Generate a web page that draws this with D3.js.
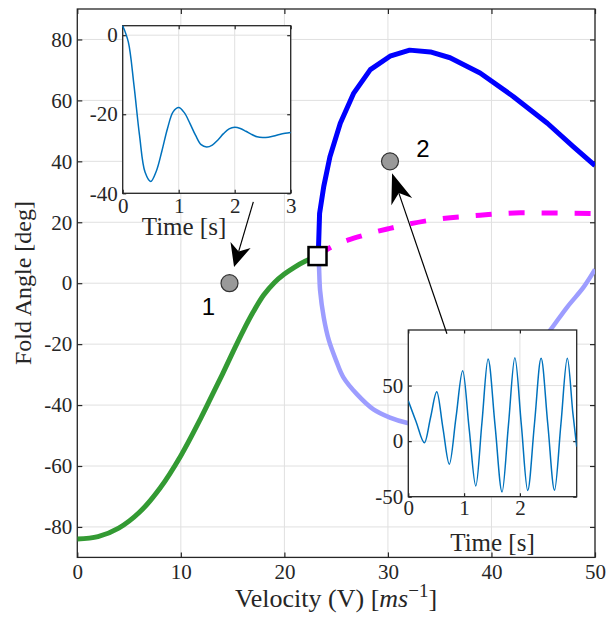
<!DOCTYPE html>
<meta charset="utf-8">
<style>
body { margin: 0; background: #fff; }
svg { display: block; }
</style>
<body>
<script src="https://cdn.jsdelivr.net/npm/d3@7"></script>
<script>

// ---- data ----
// stable branch before the flutter point (green)
var greenV = [0, 2, 4, 6, 8, 10, 12, 13, 14, 15, 16, 17, 18, 19, 20, 21, 22, 23.2];
var greenY = [-84, -83.2, -80.4, -75.2, -67.2, -56.6, -43.8, -36.9, -30, -22.8, -15.8, -9.4, -3.9, 0.1, 3, 5.3, 7.2, 8.9];
// LCO upper amplitude (blue)
var upperV = [23.2, 23.3, 23.4, 23.8, 24.4, 25.4, 26.7, 28.3, 30.2, 32.1, 34.1, 36, 38.9, 42.1, 45.4, 47.9, 50];
var upperY = [8.9, 11.9, 22.9, 31.7, 41.5, 52.5, 62.4, 70.1, 74.5, 76.5, 75.9, 74, 69, 61.3, 52.5, 44.8, 38.6];
// LCO lower amplitude (light blue)
var lowerV = [23.2, 23.3, 23.45, 23.8, 24.3, 25, 25.7, 27, 28.6, 30.2, 31.8, 33.5, 35, 37, 39, 41, 43, 45.7, 47.3, 48.9, 50];
var lowerY = [8.9, 7.5, -2.4, -11.2, -18.8, -25.4, -30.9, -36.4, -41.4, -44.1, -45.8, -46.8, -47, -45.5, -41.5, -35, -27, -15.3, -7.9, -1.3, 4.5];
// unstable equilibrium (magenta dashed)
var unstV = [23.2, 24.3, 27.6, 30.2, 34.1, 38.9, 42.8, 50];
var unstY = [8.9, 11.4, 15.7, 18, 20.7, 22.3, 23.1, 22.9];
// flutter point
var hopf = {v: 23.2, y: 8.9};
// sample points with their labels
var samples = [
  {v: 14.7, y: 0, label: "1", lv: 12.66, ly: -7.6},
  {v: 30.2, y: 40, label: "2", lv: 33.38, ly: 44.1}
];
// arrows from insets to sample points
var arrows = [
  {from: [17, 26.7], to: [15.14, 5.3], head: 23, width: 21},
  {from: [35.7, -16.6], to: [30.4, 36.1], head: 30, width: 22}
];

// inset 1: time history at point 1
var t1 = [0, 0.1, 0.2, 0.3, 0.4, 0.5, 0.6, 0.7, 0.8, 0.9, 1.0, 1.1, 1.2, 1.3, 1.4, 1.5,
          1.6, 1.7, 1.8, 1.9, 2.0, 2.1, 2.2, 2.3, 2.4, 2.5, 2.6, 2.7, 2.8, 2.9, 3.0];
var a1 = [2.4, -1.7, -12.5, -25.3, -34.7, -37.0, -34.4, -29.3, -23.6, -19.4, -18.3, -19.6, -22.3, -25.3, -27.7, -28.3,
          -27.8, -26.5, -24.9, -23.7, -23.3, -23.6, -24.3, -25.1, -25.7, -25.9, -25.8, -25.5, -25.1, -24.8, -24.6];
// inset 2: time history at point 2
var t2 = [0, 0.14, 0.29, 0.40, 0.51, 0.62, 0.735, 0.855, 0.975, 1.09, 1.21, 1.32, 1.43, 1.555, 1.68,
          1.795, 1.91, 2.025, 2.14, 2.26, 2.38, 2.50, 2.62, 2.735, 2.85, 2.95, 3.018];
var a2 = [36.3, 17.5, -1.5, 21.5, 44.4, 12, -20.7, 21.3, 63.3, 11.5, -40.3, 16.8, 73.9, 14, -45.7,
          14.6, 75, 15.3, -44.4, 15, 74.5, 15.2, -44.1, 15.2, 74.5, 25, -5];

var xTicks = [0, 10, 20, 30, 40, 50];
var yTicks = [-80, -60, -40, -20, 0, 20, 40, 60, 80];

var serif = "'Liberation Serif', 'DejaVu Serif', serif";
var ink = "#262626";

var svg = d3.select("body").append("svg")
    .attr("width", 607)
    .attr("height", 617);

var x = d3.scaleLinear().domain([0, 50]).range([77.3, 595]);
var y = d3.scaleLinear().domain([-90, 90]).range([557.4, 9]);

function zip(a, b) { return a.map(function(d, i) { return [d, b[i]]; }); }

// draws grid, inward ticks, labels and box for one set of axes
function frame(g, x, y, xt, yt, o) {
  var x0 = x.range()[0], x1 = x.range()[1], y0 = y.range()[0], y1 = y.range()[1];
  if (o.bg) g.append("rect").attr("x", x0).attr("y", y1)
      .attr("width", x1 - x0).attr("height", y0 - y1).attr("fill", "#fff");
  var grid = g.append("g").attr("stroke", "#e0e0e0").attr("stroke-width", 1);
  grid.selectAll(".gx").data(xt).enter().append("line")
      .attr("x1", x).attr("x2", x).attr("y1", y1).attr("y2", y0);
  grid.selectAll(".gy").data(yt).enter().append("line")
      .attr("y1", y).attr("y2", y).attr("x1", x0).attr("x2", x1);

  var fmt = function(d) { return String(d); };
  var axes = [
    [d3.axisBottom(x).tickValues(xt).tickPadding(o.padX).tickFormat(fmt), "translate(0," + y0 + ")"],
    [d3.axisLeft(y).tickValues(yt).tickPadding(o.padY).tickFormat(fmt), "translate(" + x0 + ",0)"],
    [d3.axisTop(x).tickValues(xt).tickFormat(""), "translate(0," + y1 + ")"],
    [d3.axisRight(y).tickValues(yt).tickFormat(""), "translate(" + x1 + ",0)"]
  ];
  axes.forEach(function(a) {
    var ag = g.append("g").attr("transform", a[1])
        .call(a[0].tickSizeInner(-o.tick).tickSizeOuter(0));
    ag.attr("font-family", serif).attr("font-size", o.fs).attr("color", ink);
    ag.select(".domain").remove();
    ag.selectAll(".tick line").attr("stroke-width", 1.2);
  });
  g.append("rect").attr("x", x0).attr("y", y1)
      .attr("width", x1 - x0).attr("height", y0 - y1)
      .attr("fill", "none").attr("stroke", ink).attr("stroke-width", 1.3);
}

// ---- main axes ----
var main = svg.append("g");
frame(main, x, y, xTicks, yTicks, {tick: 5, padX: 7, padY: 5, fs: 21});

svg.append("clipPath").attr("id", "clipMain").append("rect")
    .attr("x", 77.3).attr("y", 9).attr("width", 595 - 77.3).attr("height", 557.4 - 9);

var curves = svg.append("g").attr("clip-path", "url(#clipMain)");
var line = d3.line().x(function(d) { return x(d[0]); }).y(function(d) { return y(d[1]); });

curves.append("path").datum(zip(greenV, greenY))
    .attr("d", line.curve(d3.curveCatmullRom.alpha(0.5)))
    .attr("fill", "none").attr("stroke", "#339a33").attr("stroke-width", 5)
    .attr("stroke-linejoin", "round");

curves.append("path").datum(zip(lowerV, lowerY))
    .attr("d", line.curve(d3.curveCatmullRom.alpha(0.5)))
    .attr("fill", "none").attr("stroke", "#9d9dff").attr("stroke-width", 4.5)
    .attr("stroke-linejoin", "round");

curves.append("path").datum(zip(upperV, upperY))
    .attr("d", line.curve(d3.curveLinear))
    .attr("fill", "none").attr("stroke", "#0000ff").attr("stroke-width", 5)
    .attr("stroke-linejoin", "round");

curves.append("path").datum(zip(unstV, unstY))
    .attr("d", line.curve(d3.curveMonotoneX))
    .attr("fill", "none").attr("stroke", "#ff00ff").attr("stroke-width", 5)
    .attr("stroke-dasharray", "16,17");

// flutter point marker
svg.append("rect")
    .attr("x", x(hopf.v) - 9).attr("y", y(hopf.y) - 9)
    .attr("width", 18).attr("height", 18)
    .attr("fill", "#fff").attr("stroke", "#000").attr("stroke-width", 2.5);

// sample points
svg.selectAll(".pt").data(samples).enter().append("circle")
    .attr("cx", function(d) { return x(d.v); })
    .attr("cy", function(d) { return y(d.y); })
    .attr("r", 8.5)
    .attr("fill", "#999").attr("stroke", "#333").attr("stroke-width", 1.2);
svg.selectAll(".ptl").data(samples).enter().append("text")
    .attr("x", function(d) { return x(d.lv); })
    .attr("y", function(d) { return y(d.ly); })
    .attr("text-anchor", "middle").attr("dominant-baseline", "central")
    .attr("font-family", "'Liberation Sans', Arial, sans-serif").attr("font-size", 24)
    .attr("fill", "#000")
    .text(function(d) { return d.label; });

// axis titles
svg.append("text")
    .attr("transform", "translate(23,283) rotate(-90)")
    .attr("text-anchor", "middle").attr("dominant-baseline", "central")
    .attr("font-family", serif).attr("font-size", 24).attr("fill", ink)
    .text("Fold Angle [deg]");

var xl = svg.append("text")
    .attr("x", 336).attr("y", 607)
    .attr("text-anchor", "middle")
    .attr("font-family", serif).attr("font-size", 26).attr("fill", ink);
xl.append("tspan").text("Velocity (V) [");
xl.append("tspan").attr("font-style", "italic").text("ms");
xl.append("tspan").attr("dy", -10).attr("font-size", 19).text("\u22121");
xl.append("tspan").attr("dy", 10).text("]");

// ---- inset 1 ----
var x1s = d3.scaleLinear().domain([0, 3]).range([122.7, 290.7]);
var y1s = d3.scaleLinear().domain([-40, 2.4]).range([193.3, 25.7]);
var in1 = svg.append("g");
frame(in1, x1s, y1s, [0, 1, 2, 3], [-40, -20, 0], {bg: true, tick: 3.5, padX: 5, padY: 5, fs: 21});
in1.append("path").datum(zip(t1, a1))
    .attr("d", d3.line().x(function(d) { return x1s(d[0]); }).y(function(d) { return y1s(d[1]); })
      .curve(d3.curveCatmullRom.alpha(0.5)))
    .attr("fill", "none").attr("stroke", "#0072bd").attr("stroke-width", 1.5);
in1.append("text").attr("x", 184).attr("y", 235).attr("text-anchor", "middle")
    .attr("font-family", serif).attr("font-size", 25).attr("fill", ink).text("Time [s]");

// ---- inset 2 ----
var x2s = d3.scaleLinear().domain([0, 3.018]).range([408.3, 576.7]);
var y2s = d3.scaleLinear().domain([-50, 100]).range([496.7, 330]);
var in2 = svg.append("g");
frame(in2, x2s, y2s, [0, 1, 2], [-50, 0, 50], {bg: true, tick: 3.5, padX: 3, padY: 5, fs: 21});
svg.append("clipPath").attr("id", "clipIn2").append("rect")
    .attr("x", 408.3).attr("y", 330).attr("width", 576.7 - 408.3).attr("height", 496.7 - 330);
in2.append("path").datum(zip(t2, a2))
    .attr("clip-path", "url(#clipIn2)")
    .attr("d", d3.line().x(function(d) { return x2s(d[0]); }).y(function(d) { return y2s(d[1]); })
      .curve(d3.curveMonotoneX))
    .attr("fill", "none").attr("stroke", "#0072bd").attr("stroke-width", 1.5);
in2.append("text").attr("x", 492.5).attr("y", 551).attr("text-anchor", "middle")
    .attr("font-family", serif).attr("font-size", 25).attr("fill", ink).text("Time [s]");

// ---- arrows ----
arrows.forEach(function(a) {
  var tx = x(a.from[0]), ty = y(a.from[1]), hx = x(a.to[0]), hy = y(a.to[1]);
  var dx = hx - tx, dy = hy - ty, len = Math.sqrt(dx * dx + dy * dy);
  var ux = dx / len, uy = dy / len, nx = -uy, ny = ux;
  var L = a.head, w = a.width / 2, notch = L * 0.7;
  svg.append("line")
      .attr("x1", tx).attr("y1", ty)
      .attr("x2", hx - ux * notch).attr("y2", hy - uy * notch)
      .attr("stroke", "#000").attr("stroke-width", 1.2);
  var pts = [
    [hx, hy],
    [hx - ux * L + nx * w, hy - uy * L + ny * w],
    [hx - ux * notch, hy - uy * notch],
    [hx - ux * L - nx * w, hy - uy * L - ny * w]
  ];
  svg.append("path").attr("d", "M" + pts.join("L") + "Z").attr("fill", "#000");
});

</script>
</body>
